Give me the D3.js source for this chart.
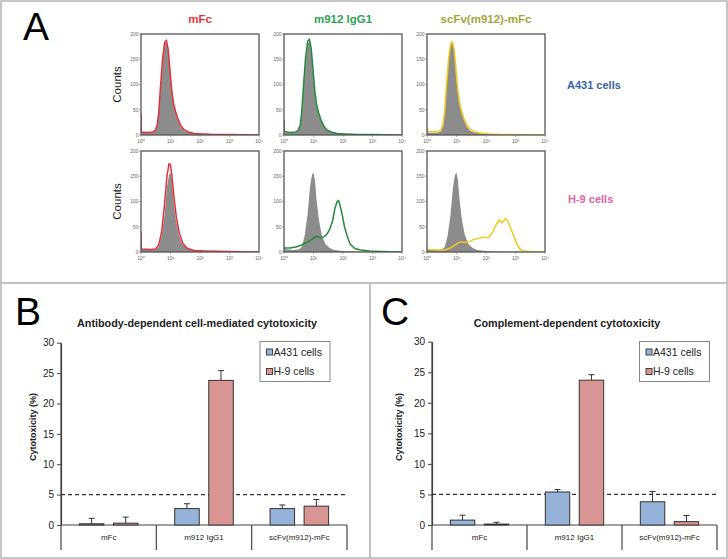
<!DOCTYPE html>
<html><head><meta charset="utf-8">
<script src="https://cdn.jsdelivr.net/npm/d3@7/dist/d3.min.js"></script>
<style>body{margin:0;background:#fff}svg{display:block;font-family:"Liberation Sans",Arial,sans-serif}</style>
</head><body><svg id="fig" width="728" height="559"></svg>
<script>
// ---------- Panel A data (flow cytometry histograms: [log10 fluorescence, counts]) ----------
const antibodies = ["mFc", "m912 IgG1", "scFv(m912)-mFc"];
const cellLines = ["A431 cells", "H-9 cells"];
const logTicks = [0, 1, 2, 3, 4];
const countTicks = [0, 50, 100, 150, 200];

const a431Control = [[0,40],[0.01,5],[0.2,4],[0.4,5],[0.48,8],[0.55,18],[0.6,40],[0.66,90],[0.73,145],[0.8,180],[0.86,185],[0.92,168],[0.98,128],[1.04,88],[1.1,60],[1.17,44],[1.25,30],[1.35,17],[1.45,9],[1.6,5],[1.8,3],[2.1,1.5],[2.5,1],[3,0.5],[4,0]];
const mFcA431 = [[0,42],[0.01,6],[0.2,5],[0.4,6],[0.48,9],[0.55,20],[0.6,43],[0.66,95],[0.73,150],[0.8,183],[0.86,188],[0.92,170],[0.98,130],[1.04,90],[1.1,63],[1.17,47],[1.25,32],[1.35,19],[1.45,11],[1.6,6],[1.8,3],[2.1,2],[2.5,1],[3,1],[4,0]];
const m912A431 = [[0,30],[0.01,7],[0.2,5],[0.4,6],[0.48,9],[0.55,20],[0.6,44],[0.66,96],[0.73,152],[0.8,185],[0.86,190],[0.92,172],[0.98,132],[1.04,90],[1.1,62],[1.17,45],[1.25,30],[1.35,18],[1.45,10],[1.6,6],[1.8,3],[2.1,2],[2.5,1],[3,1],[4,0]];
const scFvA431 = [[0,14],[0.01,8],[0.2,6],[0.4,7],[0.48,11],[0.55,24],[0.6,48],[0.66,98],[0.73,150],[0.8,180],[0.86,185],[0.92,170],[0.98,132],[1.04,92],[1.1,65],[1.17,48],[1.25,33],[1.35,20],[1.45,12],[1.6,7],[1.8,4],[2.1,2],[2.5,1],[3,1],[4,0]];

const h9Control = [[0,35],[0.01,6],[0.3,4],[0.5,5],[0.6,10],[0.7,32],[0.8,75],[0.88,128],[0.95,153],[1.0,157],[1.05,142],[1.1,105],[1.18,65],[1.28,34],[1.4,16],[1.55,8],[1.7,4],[2.0,2],[2.5,1],[4,0]];
const mFcH9 = [[0,40],[0.01,6],[0.3,5],[0.5,6],[0.6,14],[0.7,40],[0.8,95],[0.88,150],[0.95,175],[1.0,172],[1.05,150],[1.12,108],[1.2,68],[1.3,37],[1.42,17],[1.55,8],[1.8,3],[2.2,2],[3,1],[4,0]];
const m912H9 = [[0,6],[0.01,8],[0.2,8],[0.4,10],[0.6,14],[0.8,20],[0.95,25],[1.05,30],[1.15,30],[1.25,28],[1.35,30],[1.45,35],[1.55,45],[1.65,62],[1.72,85],[1.8,100],[1.85,102],[1.9,92],[1.97,75],[2.05,50],[2.15,30],[2.25,15],[2.4,7],[2.6,4],[2.9,2],[3.3,1],[4,0]];
const scFvH9 = [[0,6],[0.01,5],[0.3,4],[0.6,4],[0.8,8],[0.95,14],[1.05,18],[1.15,20],[1.3,19],[1.45,21],[1.6,25],[1.75,27],[1.85,28],[1.95,30],[2.05,28],[2.15,33],[2.25,42],[2.35,55],[2.45,64],[2.52,58],[2.6,62],[2.68,66],[2.75,60],[2.85,45],[2.95,30],[3.05,15],[3.15,6],[3.25,2],[3.5,1],[4,0]];

// ---------- Panels B & C data ----------
const categories = ["mFc", "m912 IgG1", "scFv(m912)-mFc"];
const series = ["A431 cells", "H-9 cells"];
const cytoTicks = [0, 5, 10, 15, 20, 25, 30];
const threshold = 5;
const adccA431 = [0.2, 2.7, 2.7];
const adccA431Err = [0.9, 0.8, 0.6];
const adccH9 = [0.3, 23.8, 3.1];
const adccH9Err = [1.0, 1.6, 1.1];
const cdcA431 = [0.8, 5.4, 3.8];
const cdcA431Err = [0.8, 0.4, 1.7];
const cdcH9 = [0.15, 23.7, 0.55];
const cdcH9Err = [0.3, 0.9, 1.0];

// ---------- drawing ----------
const svg = d3.select("#fig");
svg.append("rect").attr("width",728).attr("height",559).attr("fill","#fff");
svg.append("rect").attr("x",1).attr("y",1).attr("width",726).attr("height",557)
  .attr("fill","none").attr("stroke","#c6c6c6").attr("stroke-width",2);
svg.append("line").attr("x1",0).attr("x2",728).attr("y1",283).attr("y2",283).attr("stroke","#c0c0c0").attr("stroke-width",2);
svg.append("line").attr("x1",370).attr("x2",370).attr("y1",283).attr("y2",559).attr("stroke","#c0c0c0").attr("stroke-width",2);

// Panel letters
[["A",23,40],["B",15,325],["C",381,325]].forEach(([t,x,y])=>{
  svg.append("text").attr("x",x).attr("y",y).attr("font-size",39).attr("fill","#000").text(t);
});

// Panel A
const lineColors = ["#e2303b","#238a3c","#f2c81c"];
const titleColors = ["#e8343c","#2ea452","#a7a33a"];
const colX = [141, 284, 427], rowY = [34, 151], fw = 118, fh = 101;
const stained = [[mFcA431, m912A431, scFvA431],[mFcH9, m912H9, scFvH9]];
const controls = [a431Control, h9Control];
const sup = ["\u2070","\u00b9","\u00b2","\u00b3","\u2074"];

antibodies.forEach((ab,c)=>{
  svg.append("text").attr("x",colX[c]+fw/2).attr("y",23).attr("text-anchor","middle")
    .attr("font-size",11.5).attr("font-weight","bold").attr("fill",titleColors[c]).text(ab);
});

rowY.forEach((ry,r)=>{
  svg.append("text").attr("transform",`translate(121,${ry+fh/2}) rotate(-90)`)
    .attr("text-anchor","middle").attr("font-size",11.5).attr("fill","#222").text("Counts");
  colX.forEach((cx,c)=>{
    const x = d3.scaleLinear().domain([0,4]).range([cx, cx+fw]);
    const y = d3.scaleLinear().domain([0,200]).range([ry+fh, ry]);
    const g = svg.append("g");
    const clipId = `clip${r}${c}`;
    g.append("clipPath").attr("id",clipId).append("rect").attr("x",cx).attr("y",ry).attr("width",fw).attr("height",fh);
    const area = d3.area().x(d=>x(d[0])).y0(y(0)).y1(d=>y(d[1]));
    const line = d3.line().x(d=>x(d[0])).y(d=>y(d[1]));
    g.append("path").datum(controls[r]).attr("d",area).attr("fill","#8c8c8c").attr("clip-path",`url(#${clipId})`);
    g.append("path").datum(stained[r][c]).attr("d",line).attr("fill","none")
      .attr("stroke",lineColors[c]).attr("stroke-width",1.5).attr("stroke-linejoin","round").attr("clip-path",`url(#${clipId})`);
    g.append("rect").attr("x",cx).attr("y",ry).attr("width",fw).attr("height",fh)
      .attr("fill","none").attr("stroke","#555").attr("stroke-width",1.3);
    countTicks.forEach(t=>{
      g.append("line").attr("x1",cx-2).attr("x2",cx).attr("y1",y(t)).attr("y2",y(t)).attr("stroke","#777").attr("stroke-width",0.6);
      g.append("text").attr("x",cx-2.5).attr("y",y(t)+1.8).attr("text-anchor","end")
        .attr("font-size",5).attr("fill","#666").text(t);
    });
    logTicks.forEach(t=>{
      g.append("line").attr("x1",x(t)).attr("x2",x(t)).attr("y1",ry+fh).attr("y2",ry+fh+2).attr("stroke","#777").attr("stroke-width",0.6);
      g.append("text").attr("x",x(t)).attr("y",ry+fh+8).attr("text-anchor","middle")
        .attr("font-size",5).attr("fill","#666").text("10"+sup[t]);
    });
  });
});
svg.append("text").attr("x",567).attr("y",89).attr("font-size",11).attr("font-weight","bold").attr("fill","#3b62a6").text(cellLines[0]);
svg.append("text").attr("x",568).attr("y",203).attr("font-size",11).attr("font-weight","bold").attr("fill","#e262a2").text(cellLines[1]);

// Panels B & C
const barFill = ["#95b3d9","#d99593"];
function barPanel(o){
  const g = svg.append("g");
  const y = d3.scaleLinear().domain([0,30]).range([525, o.yTop]);
  const x0 = d3.scaleBand().domain(categories).range([o.left, o.right]).padding(0);
  const x1 = d3.scaleBand().domain(series).range([0, x0.bandwidth()]).paddingInner(0.28).paddingOuter(0.54);
  g.append("text").attr("x",o.titleX).attr("y",327).attr("text-anchor","middle")
    .attr("font-size",10.8).attr("font-weight","bold").attr("fill","#222").text(o.title);
  g.append("text").attr("transform",`translate(${o.ylabX},427) rotate(-90)`).attr("text-anchor","middle")
    .attr("font-size",9).attr("font-weight","bold").attr("fill","#222").text("Cytotoxicity (%)");
  const ax = g.append("g").attr("transform",`translate(${o.left},0)`)
    .call(d3.axisLeft(y).tickValues(cytoTicks).tickSize(4).tickSizeOuter(0));
  ax.select(".domain").attr("stroke","#444").attr("stroke-width",1.2);
  ax.selectAll(".tick line").attr("stroke","#444");
  ax.selectAll(".tick text").attr("font-size",10).attr("fill","#222").attr("font-family","Liberation Sans, Arial, sans-serif").attr("x",-7);
  // category axis
  g.append("line").attr("x1",o.left).attr("x2",o.right).attr("y1",y(0)).attr("y2",y(0)).attr("stroke","#444").attr("stroke-width",1.2);
  const bounds = categories.map(c=>x0(c)).concat([o.right]);
  bounds.forEach(b=>g.append("line").attr("x1",b).attr("x2",b).attr("y2",550)
    .attr("stroke","#444").attr("stroke-width",1.2).attr("y1", b===o.left? y(30): y(0)));
  categories.forEach(c=>g.append("text").attr("x",x0(c)+x0.bandwidth()/2).attr("y",540).attr("text-anchor","middle")
    .attr("font-size",8).attr("fill","#222").text(c));
  // threshold
  g.append("line").attr("x1",o.left).attr("x2",o.right).attr("y1",y(threshold)).attr("y2",y(threshold))
    .attr("stroke","#333").attr("stroke-width",1.3).attr("stroke-dasharray","4,3");
  // bars
  const vals = [o.a, o.h], errs = [o.ae, o.he];
  series.forEach((s,si)=>{
    categories.forEach((c,ci)=>{
      const bx = x0(c)+x1(s), bw = x1.bandwidth(), v = vals[si][ci], e = errs[si][ci];
      const cxm = bx + bw/2;
      g.append("line").attr("x1",cxm).attr("x2",cxm).attr("y1",y(v)).attr("y2",y(v+e)).attr("stroke","#333").attr("stroke-width",1);
      g.append("line").attr("x1",cxm-3).attr("x2",cxm+3).attr("y1",y(v+e)).attr("y2",y(v+e)).attr("stroke","#333").attr("stroke-width",1);
      g.append("rect").attr("x",bx).attr("y",y(v)).attr("width",bw).attr("height",y(0)-y(v))
        .attr("fill",barFill[si]).attr("stroke","#333").attr("stroke-width",1);
    });
  });
  // legend
  g.append("rect").attr("x",o.legX).attr("y",341.5).attr("width",70).attr("height",40)
    .attr("fill","#fff").attr("stroke","#888").attr("stroke-width",1);
  series.forEach((s,si)=>{
    const ly = 349 + si*19.5;
    g.append("rect").attr("x",o.legX+6.5).attr("y",ly).attr("width",6).attr("height",6)
      .attr("fill",barFill[si]).attr("stroke","#333").attr("stroke-width",0.9);
    g.append("text").attr("x",o.legX+13.5).attr("y",ly+6.8).attr("font-size",10.5).attr("fill","#222").text(s);
  });
}
barPanel({left:61,right:347,yTop:342.7,title:"Antibody-dependent cell-mediated cytotoxicity",titleX:197,ylabX:36,
  a:adccA431,ae:adccA431Err,h:adccH9,he:adccH9Err,legX:260});
barPanel({left:432,right:717,yTop:341.7,title:"Complement-dependent cytotoxicity",titleX:567,ylabX:402,
  a:cdcA431,ae:cdcA431Err,h:cdcH9,he:cdcH9Err,legX:639.5});
</script>
</body></html>
